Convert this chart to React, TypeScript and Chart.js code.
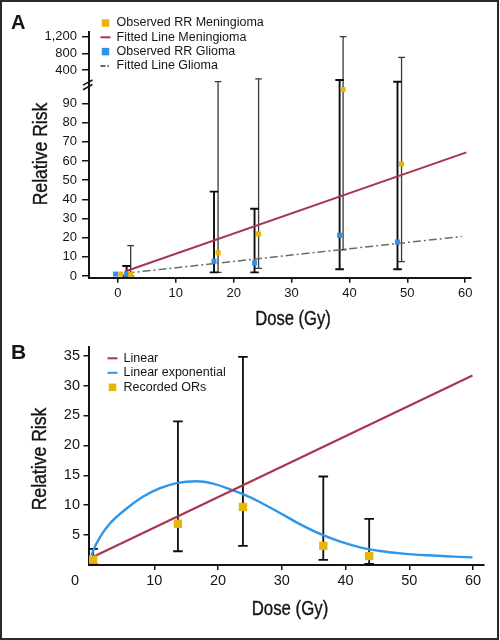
import React, { useEffect, useRef } from 'react';
import { Chart, registerables, LinearScale } from 'chart.js';

Chart.register(...registerables);

// ---------------- Panel A data ----------------
const aXTicks = [0, 10, 20, 30, 40, 50, 60];
const aYTicks = [0, 10, 20, 30, 40, 50, 60, 70, 80, 90, 400, 800, 1200];

const meningDose = [0.5, 2.2, 17.3, 24.3, 38.9, 49.0];
const meningRR = [1, 0.8, 12.1, 21.9, 97, 58.4];
const meningLow = [null, 0.1, 1.9, 4.0, 13.6, 7.5];
const meningHigh = [null, 15.8, 119, 184, 1200, 705];

const gliomaDose = [-0.4, 1.5, 16.6, 23.6, 38.3, 48.3];
const gliomaRR = [1, 1, 7.7, 6.8, 21.2, 17.7];
const gliomaLow = [null, 0.1, 1.9, 1.9, 3.5, 3.5];
const gliomaHigh = [null, 5.2, 44, 35.1, 160, 119];

const fitMeningDose = [1.2, 60.2];
const fitMeningRR = [2.3, 64.5];
const fitGliomaDose = [1.5, 59.4];
const fitGliomaRR = [1.5, 20.6];

// ---------------- Panel B data ----------------
const bXTicks = [10, 20, 30, 40, 50, 60];
const bYTicks = [5, 10, 15, 20, 25, 30, 35];

const orDose = [0.4, 13.7, 23.9, 36.5, 43.7];
const orValue = [0.9, 6.9, 9.7, 3.2, 1.5];
const orLow = [0.1, 2.3, 3.2, 0.87, 0.2];
const orHigh = [2.7, 24.0, 34.8, 14.8, 7.7];

const linearDose = [0.1, 59.9];
const linearRR = [1.2, 31.7];

const linExpDose = [0.15, 0.4, 1.5, 3.0, 5.6, 8.2, 10.8, 13.5, 16.6, 19.2, 21.8, 24.0, 26.6, 29.7, 32.9, 36.0, 39.2, 42.3, 45.4, 48.6, 52.8, 56.9, 59.9];
const linExpRR = [1.6, 2.4, 4.7, 6.9, 9.4, 11.4, 12.8, 13.7, 14.0, 13.6, 12.7, 11.8, 10.5, 8.7, 6.8, 5.2, 3.9, 2.95, 2.35, 1.95, 1.62, 1.4, 1.28];

// ---------------- styling ----------------
const YELLOW = '#E6B50A';
const BLUE_SQ = '#3093EA';
const RED = '#A8364F';
const GREY_DD = '#6a6a6a';
const BLUE_CURVE = '#2E96E8';
const INK = '#151515';
const SANS = '"Liberation Sans", Arial, Helvetica, sans-serif';

Chart.defaults.font.family = SANS;

const pts = (xs: number[], ys: number[]) => xs.map((x, i) => ({ x, y: ys[i] }));

// broken y scale for panel A: [value, decimal] anchors
const A_BREAK = [
  [-0.9, 0],
  [96, 0.756],
  [100, 0.7946],
  [1313, 1],
];

class BrokenLinearScale extends LinearScale {
  static id = 'brokenLinear';
  static defaults = {};
  valueToDecimal(v: number) {
    const a = A_BREAK;
    let i = 0;
    while (i < a.length - 2 && v > a[i + 1][0]) i++;
    const [v0, d0] = a[i];
    const [v1, d1] = a[i + 1];
    return d0 + ((v - v0) / (v1 - v0)) * (d1 - d0);
  }
  decimalToValue(d: number) {
    const a = A_BREAK;
    let i = 0;
    while (i < a.length - 2 && d > a[i + 1][1]) i++;
    const [v0, d0] = a[i];
    const [v1, d1] = a[i + 1];
    return v0 + ((d - d0) / (d1 - d0)) * (v1 - v0);
  }
  getPixelForValue(value: any) {
    if (value === null || value === undefined || Number.isNaN(+value)) return NaN;
    return (this as any).getPixelForDecimal(this.valueToDecimal(+value));
  }
  getValueForPixel(pixel: number) {
    return this.decimalToValue((this as any).getDecimalForPixel(pixel));
  }
}
Chart.register(BrokenLinearScale as any);

// ---------------- plugins ----------------
const errorBarsPlugin = {
  id: 'errorBars',
  beforeDatasetsDraw(chart: any) {
    const { ctx } = chart;
    const xs = chart.scales.x;
    const ys = chart.scales.y;
    chart.data.datasets.forEach((ds: any) => {
      if (!ds.errLow) return;
      ctx.save();
      ctx.strokeStyle = ds.errColor;
      ctx.lineWidth = ds.errWidth;
      ds.data.forEach((p: any, j: number) => {
        const lo = ds.errLow[j];
        const hi = ds.errHigh[j];
        if (lo == null || hi == null) return;
        const x = xs.getPixelForValue(p.x);
        const y1 = ys.getPixelForValue(lo);
        const y2 = ys.getPixelForValue(hi);
        const c = ds.errCap;
        ctx.beginPath();
        ctx.moveTo(x, y1);
        ctx.lineTo(x, y2);
        ctx.moveTo(x - c, y1);
        ctx.lineTo(x + c, y1);
        ctx.moveTo(x - c, y2);
        ctx.lineTo(x + c, y2);
        ctx.stroke();
      });
      ctx.restore();
    });
  },
};

function makeLegendPlugin(dx: number, dy: number, rowGap: number, textDx: number, sq: number) {
  return {
    id: 'cornerLegend',
    afterDraw(chart: any) {
      const { ctx, chartArea } = chart;
      const x0 = chartArea.left + dx;
      const y0 = chartArea.top + dy;
      ctx.save();
      ctx.font = `12.5px ${SANS}`;
      ctx.textBaseline = 'middle';
      ctx.textAlign = 'left';
      chart.data.datasets.forEach((ds: any, row: number) => {
        const y = y0 + row * rowGap;
        if (ds.showLine) {
          ctx.strokeStyle = ds.borderColor;
          ctx.lineWidth = 2;
          ctx.setLineDash(ds.legendDash || []);
          ctx.beginPath();
          ctx.moveTo(x0 - 5, y);
          ctx.lineTo(x0 + 5, y);
          ctx.stroke();
          ctx.setLineDash([]);
        } else {
          ctx.fillStyle = ds.backgroundColor;
          ctx.fillRect(x0 - sq / 2, y - sq / 2, sq, sq);
        }
        ctx.fillStyle = INK;
        ctx.fillText(ds.label, x0 + textDx, y);
      });
      ctx.restore();
    },
  };
}

const breakMarkPlugin = {
  id: 'breakMark',
  afterDraw(chart: any) {
    const { ctx, chartArea } = chart;
    const ys = chart.scales.y;
    const ax = chartArea.left;
    const yc = ys.getPixelForValue(99);
    ctx.save();
    ctx.strokeStyle = INK;
    ctx.lineWidth = 1.6;
    [-2.3, 2.3].forEach((k) => {
      ctx.beginPath();
      ctx.moveTo(ax - 6, yc + k + 2.6);
      ctx.lineTo(ax + 3.5, yc + k - 2.6);
      ctx.stroke();
    });
    ctx.restore();
  },
};

const originLabelPlugin = {
  id: 'originLabel',
  afterDraw(chart: any) {
    const { ctx, chartArea } = chart;
    ctx.save();
    ctx.font = `14.5px ${SANS}`;
    ctx.fillStyle = INK;
    ctx.textAlign = 'center';
    ctx.textBaseline = 'middle';
    ctx.fillText('0', chartArea.left - 14, chartArea.bottom + 15.5);
    ctx.restore();
  },
};

function axisCommon(tickLength: number, padding: number, size: number) {
  return {
    grid: { drawOnChartArea: false, drawTicks: true, tickLength, color: INK, lineWidth: 1.5 },
    border: { display: true, color: INK, width: 2 },
    ticks: { color: INK, font: { family: SANS, size }, padding, maxRotation: 0, autoSkip: false },
  };
}

function PanelA() {
  const ref = useRef<HTMLCanvasElement | null>(null);
  useEffect(() => {
    if (!ref.current) return;
    const chart = new Chart(ref.current, {
      type: 'scatter',
      data: {
        datasets: [
          {
            label: 'Observed RR Meningioma',
            data: pts(meningDose, meningRR),
            backgroundColor: YELLOW,
            borderColor: YELLOW,
            pointStyle: 'rect',
            pointRadius: 3.6,
            pointBorderWidth: 0,
            order: -1,
            clip: false,
            errLow: meningLow,
            errHigh: meningHigh,
            errColor: '#3a3a3a',
            errWidth: 1.3,
            errCap: 3.4,
          } as any,
          {
            label: 'Fitted Line Meningioma',
            data: pts(fitMeningDose, fitMeningRR),
            showLine: true,
            borderColor: RED,
            backgroundColor: RED,
            borderWidth: 2,
            pointRadius: 0,
          } as any,
          {
            label: 'Observed RR Glioma',
            data: pts(gliomaDose, gliomaRR),
            backgroundColor: BLUE_SQ,
            borderColor: BLUE_SQ,
            pointStyle: 'rect',
            pointRadius: 3.6,
            pointBorderWidth: 0,
            order: -1,
            clip: false,
            errLow: gliomaLow,
            errHigh: gliomaHigh,
            errColor: '#0d0d0d',
            errWidth: 1.9,
            errCap: 4.3,
          } as any,
          {
            label: 'Fitted Line Glioma',
            data: pts(fitGliomaDose, fitGliomaRR),
            showLine: true,
            borderColor: GREY_DD,
            backgroundColor: GREY_DD,
            borderWidth: 1.5,
            borderDash: [8, 3, 2, 3],
            legendDash: [5, 2, 1.5, 2],
            pointRadius: 0,
          } as any,
        ],
      },
      options: {
        responsive: false,
        animation: false,
        events: [],
        layout: { padding: { top: 32, right: 29, bottom: 0, left: 0 } },
        plugins: { legend: { display: false }, tooltip: { enabled: false }, title: { display: false } },
        scales: {
          x: {
            type: 'linear',
            min: -5,
            max: 61,
            afterBuildTicks: (s: any) => {
              s.ticks = aXTicks.map((v) => ({ value: v }));
            },
            afterFit: (s: any) => {
              s.height = 52.3;
            },
            ...axisCommon(5, 3, 13),
          },
          y: {
            type: 'brokenLinear',
            min: -0.9,
            max: 1313,
            afterBuildTicks: (s: any) => {
              s.ticks = aYTicks.map((v) => ({ value: v }));
            },
            afterFit: (s: any) => {
              s.width = 89;
            },
            ...axisCommon(7, 5, 13),
            ticks: {
              color: INK,
              font: { family: SANS, size: 13 },
              padding: 5,
              autoSkip: false,
              callback: (v: any) => Number(v).toLocaleString('en-US'),
            },
          } as any,
        },
      } as any,
      plugins: [errorBarsPlugin, makeLegendPlugin(16.5, -9, 14.3, 11, 7.5), breakMarkPlugin],
    });
    return () => chart.destroy();
  }, []);
  return (
    <div style={{ position: 'absolute', left: 0, top: 0, width: 500, height: 330 }}>
      <canvas ref={ref} width={500} height={330} style={{ display: 'block' }} />
    </div>
  );
}

function PanelB() {
  const ref = useRef<HTMLCanvasElement | null>(null);
  useEffect(() => {
    if (!ref.current) return;
    const chart = new Chart(ref.current, {
      type: 'scatter',
      data: {
        datasets: [
          {
            label: 'Linear',
            data: pts(linearDose, linearRR),
            showLine: true,
            borderColor: RED,
            backgroundColor: RED,
            borderWidth: 2.2,
            pointRadius: 0,
          } as any,
          {
            label: 'Linear exponential',
            data: pts(linExpDose, linExpRR),
            showLine: true,
            borderColor: BLUE_CURVE,
            backgroundColor: BLUE_CURVE,
            borderWidth: 2.4,
            cubicInterpolationMode: 'monotone',
            pointRadius: 0,
          } as any,
          {
            label: 'Recorded ORs',
            data: pts(orDose, orValue),
            backgroundColor: YELLOW,
            borderColor: YELLOW,
            pointStyle: 'rect',
            pointRadius: 5.9,
            pointBorderWidth: 0,
            order: -1,
            clip: false,
            errLow: orLow,
            errHigh: orHigh,
            errColor: '#0d0d0d',
            errWidth: 1.8,
            errCap: 4.8,
          } as any,
        ],
      },
      options: {
        responsive: false,
        animation: false,
        events: [],
        layout: { padding: { top: 16.7, right: 16.7, bottom: 0, left: 0 } },
        plugins: { legend: { display: false }, tooltip: { enabled: false }, title: { display: false } },
        scales: {
          x: {
            type: 'linear',
            min: -0.25,
            max: 61.6,
            afterBuildTicks: (s: any) => {
              s.ticks = bXTicks.map((v) => ({ value: v }));
            },
            afterFit: (s: any) => {
              s.height = 75;
            },
            ...axisCommon(5, 2, 14.5),
          },
          y: {
            type: 'linear',
            min: 0,
            max: 36.5,
            afterBuildTicks: (s: any) => {
              s.ticks = bYTicks.map((v) => ({ value: v }));
            },
            afterFit: (s: any) => {
              s.width = 89;
            },
            ...axisCommon(5.5, 3.5, 14.5),
          },
        },
      } as any,
      plugins: [errorBarsPlugin, makeLegendPlugin(23.5, 11.6, 14.5, 11, 7.5), originLabelPlugin],
    });
    return () => chart.destroy();
  }, []);
  return (
    <div style={{ position: 'absolute', left: 0, top: 330, width: 500, height: 310 }}>
      <canvas ref={ref} width={500} height={310} style={{ display: 'block' }} />
    </div>
  );
}

const titleStyle = (left: number, top: number, rotate: boolean, sx: number): React.CSSProperties => ({
  position: 'absolute',
  left,
  top,
  transform: rotate
    ? `translate(-50%, -50%) rotate(-90deg) scaleX(${sx})`
    : `translate(-50%, -50%) scaleX(${sx})`,
  font: `20px ${SANS}`,
  lineHeight: '20px',
  whiteSpace: 'nowrap',
  color: INK,
  WebkitTextStroke: `0.35px ${INK}`,
});

export default function App() {
  return (
    <div style={{ position: 'relative', width: 500, height: 640, overflow: 'hidden', background: '#fff', fontFamily: SANS }}>
      <style>{'body{margin:0;background:#fff}'}</style>
      <PanelA />
      <PanelB />
      <div style={{ position: 'absolute', left: 11, top: 12, font: `bold 20px ${SANS}`, lineHeight: '20px', color: INK }}>A</div>
      <div style={{ position: 'absolute', left: 11, top: 340.5, font: `bold 21px ${SANS}`, lineHeight: '21px', color: INK }}>B</div>
      <div style={titleStyle(39.5, 153.5, true, 0.88)}>Relative Risk</div>
      <div style={titleStyle(292.5, 317.5, false, 0.83)}>Dose (Gy)</div>
      <div style={titleStyle(39, 459, true, 0.88)}>Relative Risk</div>
      <div style={titleStyle(290, 608, false, 0.84)}>Dose (Gy)</div>
      <div
        style={{
          position: 'absolute',
          left: 0,
          top: 0,
          width: 499,
          height: 640,
          boxSizing: 'border-box',
          border: '2px solid #2a2a2a',
          pointerEvents: 'none',
        }}
      />
    </div>
  );
}
